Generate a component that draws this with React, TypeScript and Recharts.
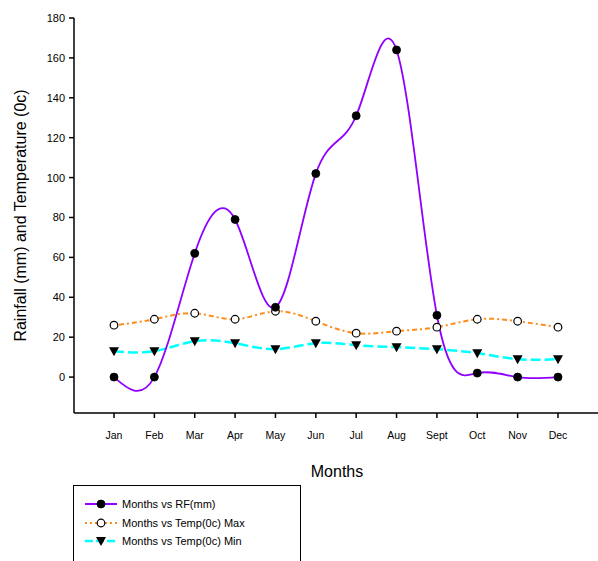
import { LineChart, Line, XAxis, YAxis } from 'recharts';

const months = ['Jan', 'Feb', 'Mar', 'Apr', 'May', 'Jun', 'Jul', 'Aug', 'Sept', 'Oct', 'Nov', 'Dec'];
const rainfall = [0, 0, 62, 79, 35, 102, 131, 164, 31, 2, 0, 0];
const tempMax = [26, 29, 32, 29, 33, 28, 22, 23, 25, 29, 28, 25];
const tempMin = [13, 13, 18, 17, 14, 17, 16, 15, 14, 12, 9, 9];
const yTicks = [0, 20, 40, 60, 80, 100, 120, 140, 160, 180];

const data = months.map((m, i) => ({
  month: m,
  rf: rainfall[i],
  max: tempMax[i],
  min: tempMin[i],
}));

const FONT = '"Liberation Sans Narrow", "Liberation Sans", Arial, sans-serif';

const FilledDot = (props: any) => {
  const { cx, cy } = props;
  if (cx == null || cy == null) return null;
  return <circle cx={cx} cy={cy} r={4} fill="#000" stroke="#000" strokeWidth={0.8} />;
};

const OpenDot = (props: any) => {
  const { cx, cy } = props;
  if (cx == null || cy == null) return null;
  return <circle cx={cx} cy={cy} r={3.8} fill="#fff" stroke="#000" strokeWidth={1.2} />;
};

const TriangleDot = (props: any) => {
  const { cx, cy } = props;
  if (cx == null || cy == null) return null;
  return <path d={`M${cx - 5},${cy - 4} L${cx + 5},${cy - 4} L${cx},${cy + 5} Z`} fill="#000" />;
};

const legendItems = [
  { label: 'Months vs RF(mm)', color: '#8f00ff', dash: undefined, width: 2, Dot: FilledDot },
  { label: 'Months vs Temp(0c) Max', color: '#ff8c1a', dash: '2 3', width: 2, Dot: OpenDot },
  { label: 'Months vs Temp(0c) Min', color: '#00ffff', dash: '8 3', width: 2.5, Dot: TriangleDot },
];

export default function App() {
  return (
    <div style={{ position: 'absolute', left: 0, top: 0, width: 598, height: 561, overflow: 'hidden', background: '#fff' }}>
      <LineChart width={600} height={561} data={data} margin={{ top: 18, right: 0, left: 0, bottom: 78 }}>
        <XAxis
          dataKey="month"
          padding={{ left: 40, right: 42 }}
          height={70}
          stroke="#000"
          strokeWidth={1.5}
          tickSize={5}
          tickMargin={14}
          tick={{ fontSize: 10.5, fill: '#000', fontFamily: FONT }}
          label={{ value: 'Months', position: 'insideBottom', offset: 6, style: { fontSize: 16, fill: '#000', fontFamily: FONT } }}
        />
        <YAxis
          width={74}
          domain={[-18, 180]}
          ticks={yTicks}
          allowDataOverflow
          stroke="#000"
          strokeWidth={1.5}
          tickSize={5}
          tickMargin={4}
          tick={{ fontSize: 11, fill: '#000', fontFamily: FONT }}
          label={{
            value: 'Rainfall (mm) and Temperature (0c)',
            angle: -90,
            position: 'insideLeft',
            offset: 20,
            style: { fontSize: 16, fill: '#000', fontFamily: FONT, textAnchor: 'middle' },
          }}
        />
        <Line dataKey="max" type="natural" stroke="#ff8c1a" strokeWidth={2} strokeDasharray="2 3 5 3" dot={<OpenDot />} isAnimationActive={false} />
        <Line dataKey="min" type="natural" stroke="#00ffff" strokeWidth={2.5} strokeDasharray="10 4" dot={<TriangleDot />} isAnimationActive={false} />
        <Line dataKey="rf" type="natural" stroke="#8f00ff" strokeWidth={1.8} dot={<FilledDot />} isAnimationActive={false} />
      </LineChart>
      <div
        style={{
          position: 'absolute',
          left: 73,
          top: 485,
          width: 228,
          height: 100,
          border: '1.5px solid #000',
          background: '#fff',
          fontFamily: FONT,
          fontSize: 11,
          paddingTop: 9,
          boxSizing: 'border-box',
        }}
      >
        {legendItems.map((it) => (
          <div key={it.label} style={{ display: 'flex', alignItems: 'center', height: 18.5, paddingLeft: 9 }}>
            <svg width={36} height={12}>
              <line x1={2} y1={6} x2={34} y2={6} stroke={it.color} strokeWidth={it.width} strokeDasharray={it.dash} />
              <it.Dot cx={18} cy={6} />
            </svg>
            <span style={{ marginLeft: 3, color: '#000' }}>{it.label}</span>
          </div>
        ))}
      </div>
    </div>
  );
}
